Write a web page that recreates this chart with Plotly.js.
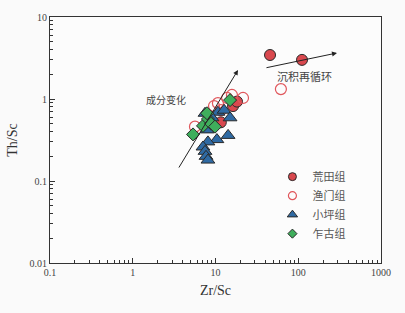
<!DOCTYPE html>
<html>
<head>
<meta charset="utf-8">
<script src="https://cdn.plot.ly/plotly-3.0.1.min.js"></script>
<style>html,body{margin:0;padding:0;background:#fafafa;}#chart{width:405px;height:313px;}</style>
</head>
<body>
<div id="chart"></div>
<script>
// Series names
var seriesNames = ['荒田组', '渔门组', '小坪组', '乍古组'];

// 荒田组 (filled red circles)
var huangtianZr = [45.6, 111, 16.3, 18.2, 11.6];
var huangtianTh = [3.44, 3.0, 0.82, 0.93, 0.52];

// 渔门组 (open circles)
var yumenZr = [61.7, 21.5, 10.7, 13.8, 15.8, 9.6, 11.6, 5.65];
var yumenTh = [1.32, 1.03, 0.89, 1.03, 1.12, 0.82, 0.73, 0.46];

// 小坪组 (triangles)
var xiaopingZr = [7.47, 8.6, 10.7, 12.7, 15.0, 9.07, 7.9, 14.2, 10.4, 8.1, 7.06, 7.47, 7.68, 8.1];
var xiaopingTh = [0.67, 0.52, 0.69, 0.73, 0.59, 0.59, 0.42, 0.36, 0.32, 0.30, 0.26, 0.23, 0.20, 0.18];

// 乍古组 (diamonds)
var zhaguZr = [5.35, 7.06, 8.1, 8.83, 9.86, 15.0, 7.9];
var zhaguTh = [0.37, 0.47, 0.57, 0.50, 0.46, 0.97, 0.67];

// Arrow annotations (text labels and log10 endpoints: [tailX, tailY, headX, headY])
var arrowLabels = ['成分变化', '沉积再循环'];
var arrow1 = [0.547, -0.854, 1.272, 0.354];
var arrow2 = [1.598, 0.378, 2.468, 0.561];

var edge = '#2a2a2a';
var styles = [
  {symbol: 'circle', color: '#d9484e', line: {color: edge, width: 1}},
  {symbol: 'circle-open', color: '#e0575c', line: {color: '#e0575c', width: 1.2}},
  {symbol: 'triangle-up', color: '#2f6aa3', line: {color: edge, width: 1}},
  {symbol: 'diamond', color: '#3fae5c', line: {color: edge, width: 1}}
];
var sizes = [11, 11, 12, 10];
var legendSizes = [8, 8, 9, 7];
var xs = [huangtianZr, yumenZr, xiaopingZr, zhaguZr];
var ys = [huangtianTh, yumenTh, xiaopingTh, zhaguTh];

var traces = [];
for (var i = 0; i < 4; i++) {
  traces.push({x: xs[i], y: ys[i], name: seriesNames[i], type: 'scatter', mode: 'markers', showlegend: false,
    marker: Object.assign({size: sizes[i]}, styles[i])});
}
for (var j = 0; j < 4; j++) {
  traces.push({x: [null], y: [null], name: seriesNames[j], type: 'scatter', mode: 'markers', showlegend: true,
    marker: Object.assign({size: legendSizes[j]}, styles[j])});
}

var serif = 'Liberation Serif, DejaVu Serif, serif';
var axisCommon = {
  type: 'log', dtick: 1, exponentformat: 'none', showgrid: false, zeroline: false,
  showline: true, mirror: true, linecolor: '#333', linewidth: 1,
  ticks: 'inside', ticklen: 5, tickcolor: '#333',
  minor: {dtick: 'D1', ticks: 'inside', ticklen: 3, tickcolor: '#333', showgrid: false},
  tickfont: {family: serif, size: 10, color: '#444'}
};

var layout = {
  width: 405, height: 313,
  margin: {l: 50, r: 24, t: 17, b: 50},
  paper_bgcolor: '#fafafa', plot_bgcolor: '#fcfcfc',
  showlegend: true,
  legend: {x: 0.672, y: 0.41, xanchor: 'left', yanchor: 'top', bgcolor: 'rgba(0,0,0,0)',
           font: {family: 'Noto Sans CJK SC, sans-serif', size: 11, color: '#555'}},
  xaxis: Object.assign({}, axisCommon, {range: [-1, 3],
    title: {text: 'Zr/Sc', font: {family: serif, size: 14, color: '#333'}, standoff: 8}}),
  yaxis: Object.assign({}, axisCommon, {range: [-2, 1],
    title: {text: 'Th/Sc', font: {family: serif, size: 14, color: '#333'}, standoff: 8}}),
  annotations: [
    {x: arrow1[2], y: arrow1[3], ax: arrow1[0], ay: arrow1[1], xref: 'x', yref: 'y', axref: 'x', ayref: 'y',
     showarrow: true, arrowhead: 2, arrowsize: 1, arrowwidth: 1, arrowcolor: '#222', text: ''},
    {x: arrow2[2], y: arrow2[3], ax: arrow2[0], ay: arrow2[1], xref: 'x', yref: 'y', axref: 'x', ayref: 'y',
     showarrow: true, arrowhead: 2, arrowsize: 1, arrowwidth: 1, arrowcolor: '#222', text: ''},
    {x: 0.4, y: 0.0, xref: 'x', yref: 'y', text: arrowLabels[0], showarrow: false,
     font: {family: 'Noto Sans CJK SC, sans-serif', size: 10, color: '#444'}},
    {x: 2.07, y: 0.28, xref: 'x', yref: 'y', text: arrowLabels[1], showarrow: false,
     font: {family: 'Noto Sans CJK SC, sans-serif', size: 11, color: '#444'}}
  ]
};

Plotly.newPlot('chart', traces, layout, {displayModeBar: false, staticPlot: true});
</script>
</body>
</html>
